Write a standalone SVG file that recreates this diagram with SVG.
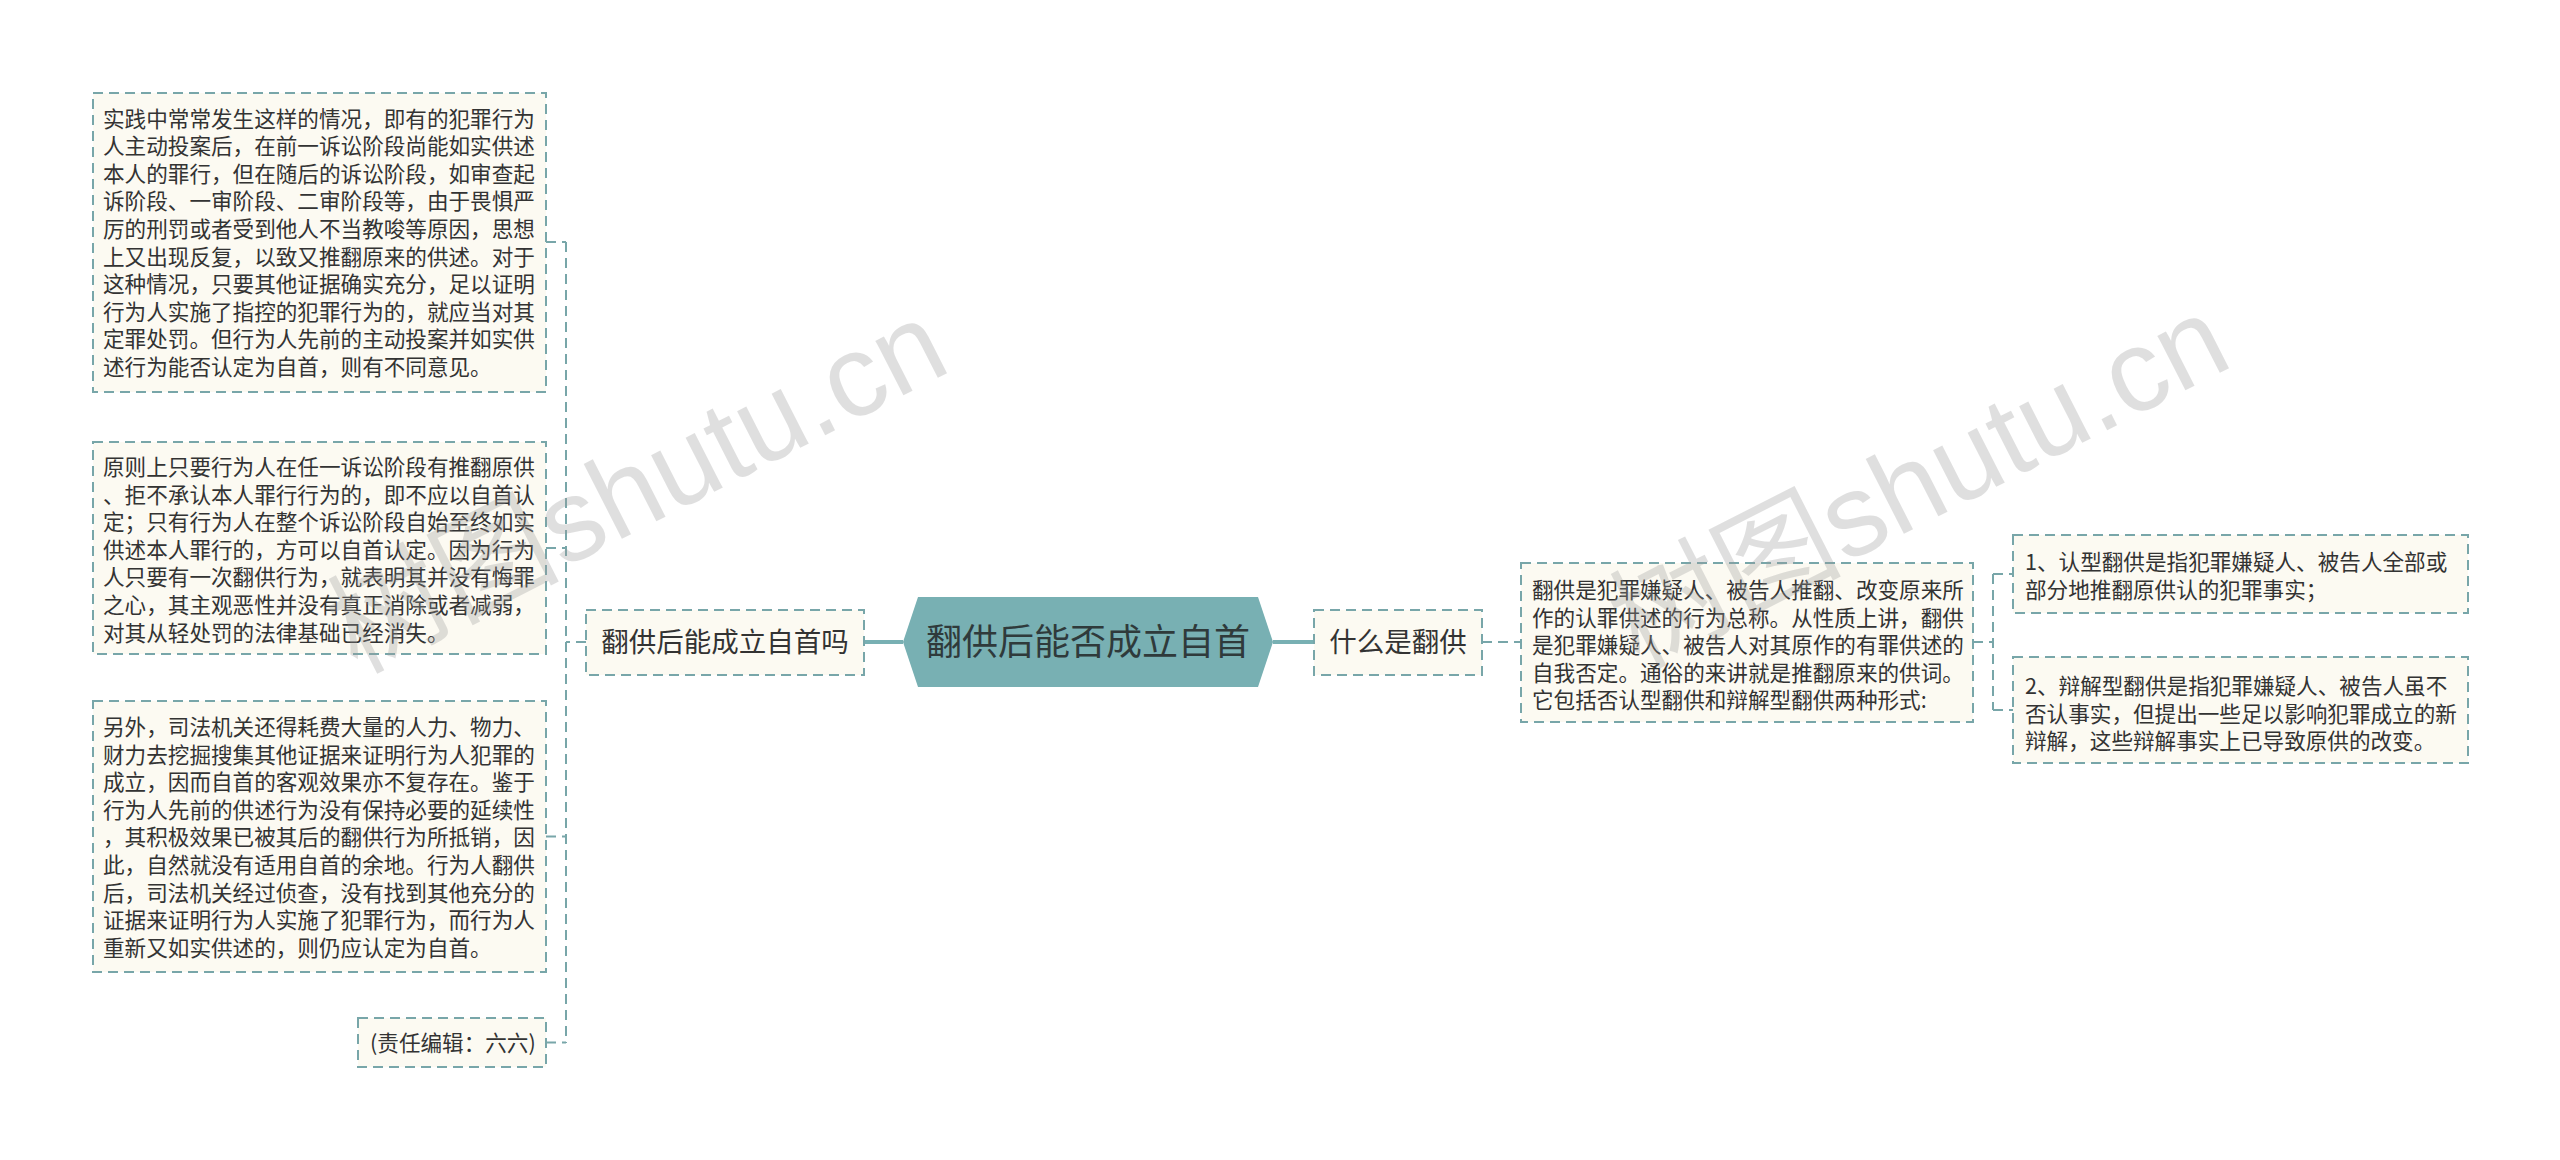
<svg xmlns="http://www.w3.org/2000/svg" width="2560" height="1160" viewBox="0 0 2560 1160">
<style>
.box{fill:#fcfaf2;stroke:#78a6a9;stroke-width:2;stroke-dasharray:10 6}
.dash{fill:none;stroke:#78a6a9;stroke-width:2;stroke-dasharray:10 6}
.solid{fill:none;stroke:#78b0b3;stroke-width:4}
.t{font-family:"Noto Sans CJK SC","Noto Sans",sans-serif;font-size:21.6px;fill:#333333}
.n{font-family:"Noto Sans CJK SC","Noto Sans",sans-serif;font-size:27.5px;fill:#333333;text-anchor:middle}
.c{font-family:"Noto Sans CJK SC","Noto Sans",sans-serif;font-size:36px;fill:#2f3a3b;text-anchor:middle}
.wm{font-family:"Liberation Sans","Noto Sans CJK SC",sans-serif;font-size:116px;font-weight:normal;fill:#999999;opacity:0.3;text-anchor:middle}
</style>
<rect width="2560" height="1160" fill="#ffffff"/>
<g id="connectors">
<path class="dash" d="M586,642 H566 M566,242 V1043 M546,242 H566 M546,548 H566 M546,836.5 H566 M546,1042.5 H566"/>
<path class="solid" d="M864,642 H903"/>
<path class="solid" d="M1273,642 H1314"/>
<path class="dash" d="M1482,642 H1521"/>
<path class="dash" d="M1973,642 H1993 M1993,574 V710 M1993,574 H2013 M1993,710 H2013"/>
</g>
<g id="center">
<polygon points="903,642 918,597 1258,597 1273,642 1258,687 918,687" fill="#78b0b3"/>
<text class="c" x="1088" y="655">翻供后能否成立自首</text>
</g>
<g id="node-left">
<rect class="box" x="586" y="610" width="278" height="65"/>
<text class="n" x="725" y="652">翻供后能成立自首吗</text>
</g>
<g id="node-right">
<rect class="box" x="1314" y="610" width="168" height="65"/>
<text class="n" x="1398" y="652">什么是翻供</text>
</g>
<g id="box1">
<rect class="box" x="93" y="93" width="453" height="299"/>
<text class="t" x="103" y="126.5">
<tspan x="103">实践中常常发生这样的情况，即有的犯罪行为</tspan>
<tspan x="103" dy="27.6">人主动投案后，在前一诉讼阶段尚能如实供述</tspan>
<tspan x="103" dy="27.6">本人的罪行，但在随后的诉讼阶段，如审查起</tspan>
<tspan x="103" dy="27.6">诉阶段、一审阶段、二审阶段等，由于畏惧严</tspan>
<tspan x="103" dy="27.6">厉的刑罚或者受到他人不当教唆等原因，思想</tspan>
<tspan x="103" dy="27.6">上又出现反复，以致又推翻原来的供述。对于</tspan>
<tspan x="103" dy="27.6">这种情况，只要其他证据确实充分，足以证明</tspan>
<tspan x="103" dy="27.6">行为人实施了指控的犯罪行为的，就应当对其</tspan>
<tspan x="103" dy="27.6">定罪处罚。但行为人先前的主动投案并如实供</tspan>
<tspan x="103" dy="27.6">述行为能否认定为自首，则有不同意见。</tspan>
</text>
</g>
<g id="box2">
<rect class="box" x="93" y="442" width="453" height="212"/>
<text class="t" x="103" y="475">
<tspan x="103">原则上只要行为人在任一诉讼阶段有推翻原供</tspan>
<tspan x="103" dy="27.6">、拒不承认本人罪行行为的，即不应以自首认</tspan>
<tspan x="103" dy="27.6">定；只有行为人在整个诉讼阶段自始至终如实</tspan>
<tspan x="103" dy="27.6">供述本人罪行的，方可以自首认定。因为行为</tspan>
<tspan x="103" dy="27.6">人只要有一次翻供行为，就表明其并没有悔罪</tspan>
<tspan x="103" dy="27.6">之心，其主观恶性并没有真正消除或者减弱，</tspan>
<tspan x="103" dy="27.6">对其从轻处罚的法律基础已经消失。</tspan>
</text>
</g>
<g id="box3">
<rect class="box" x="93" y="701" width="453" height="271"/>
<text class="t" x="103" y="735">
<tspan x="103">另外，司法机关还得耗费大量的人力、物力、</tspan>
<tspan x="103" dy="27.6">财力去挖掘搜集其他证据来证明行为人犯罪的</tspan>
<tspan x="103" dy="27.6">成立，因而自首的客观效果亦不复存在。鉴于</tspan>
<tspan x="103" dy="27.6">行为人先前的供述行为没有保持必要的延续性</tspan>
<tspan x="103" dy="27.6">，其积极效果已被其后的翻供行为所抵销，因</tspan>
<tspan x="103" dy="27.6">此，自然就没有适用自首的余地。行为人翻供</tspan>
<tspan x="103" dy="27.6">后，司法机关经过侦查，没有找到其他充分的</tspan>
<tspan x="103" dy="27.6">证据来证明行为人实施了犯罪行为，而行为人</tspan>
<tspan x="103" dy="27.6">重新又如实供述的，则仍应认定为自首。</tspan>
</text>
</g>
<g id="box4">
<rect class="box" x="358" y="1018" width="188" height="49"/>
<text class="t" x="370" y="1051">(责任编辑：六六)</text>
</g>
<g id="box5">
<rect class="box" x="1521" y="563" width="452" height="159"/>
<text class="t" x="1532" y="598">
<tspan x="1532">翻供是犯罪嫌疑人、被告人推翻、改变原来所</tspan>
<tspan x="1532" dy="27.6">作的认罪供述的行为总称。从性质上讲，翻供</tspan>
<tspan x="1532" dy="27.6">是犯罪嫌疑人、被告人对其原作的有罪供述的</tspan>
<tspan x="1532" dy="27.6">自我否定。通俗的来讲就是推翻原来的供词。</tspan>
<tspan x="1532" dy="27.6">它包括否认型翻供和辩解型翻供两种形式:</tspan>
</text>
</g>
<g id="box6">
<rect class="box" x="2013" y="535" width="455" height="78"/>
<text class="t" x="2025" y="570">
<tspan x="2025">1、认型翻供是指犯罪嫌疑人、被告人全部或</tspan>
<tspan x="2025" dy="27.6">部分地推翻原供认的犯罪事实；</tspan>
</text>
</g>
<g id="box7">
<rect class="box" x="2013" y="657" width="455" height="106"/>
<text class="t" x="2025" y="694">
<tspan x="2025">2、辩解型翻供是指犯罪嫌疑人、被告人虽不</tspan>
<tspan x="2025" dy="27.6">否认事实，但提出一些足以影响犯罪成立的新</tspan>
<tspan x="2025" dy="27.6">辩解，这些辩解事实上已导致原供的改变。</tspan>
</text>
</g>
<g id="watermark">
<text class="wm" transform="translate(655,522) rotate(-27)">树图shutu.cn</text>
<text class="wm" transform="translate(1937,517) rotate(-27)">树图shutu.cn</text>
</g>
</svg>
